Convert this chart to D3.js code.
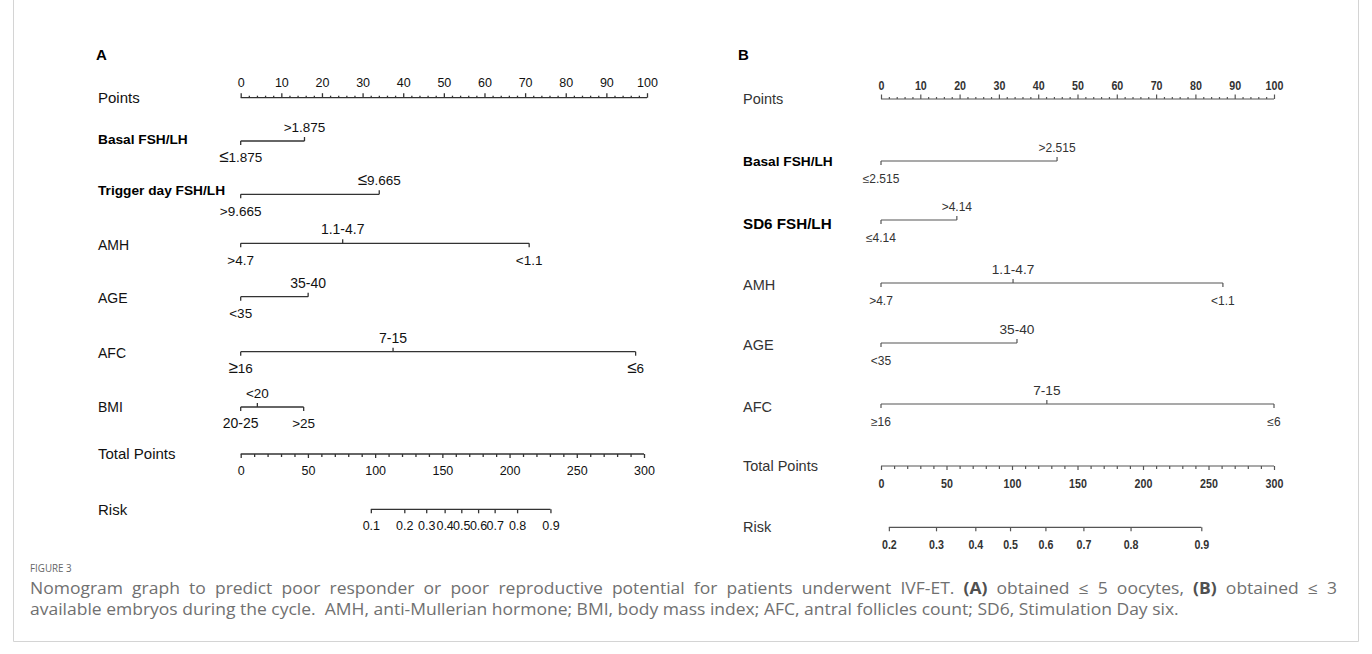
<!DOCTYPE html>
<html><head><meta charset="utf-8">
<script src="https://cdn.jsdelivr.net/npm/d3@7/dist/d3.min.js"></script>
<style>body{margin:0;background:#fff}svg{display:block}</style></head>
<body><svg id="chart" width="1372" height="654"></svg>
<script>
// ---------------- DATA ----------------
const pointTicks = [0, 10, 20, 30, 40, 50, 60, 70, 80, 90, 100];
const pointMinorTicks = d3.range(0, 101, 2);
const totalTicks = [0, 50, 100, 150, 200, 250, 300];
const totalMinorTicks = d3.range(0, 301, 10);

// Panel A: obtained <= 5 oocytes
const varNamesA = ["Basal FSH/LH", "Trigger day FSH/LH", "AMH", "AGE", "AFC", "BMI"];
const levelLabelsA = [
  ["≤1.875", ">1.875"],
  [">9.665", "≤9.665"],
  [">4.7", "1.1-4.7", "<1.1"],
  ["<35", "35-40"],
  ["≥16", "7-15", "≤6"],
  ["20-25", "<20", ">25"]
];
const levelPointsA = [
  [0, 15.7],
  [0, 34.1],
  [0, 25.1, 71.0],
  [0, 16.6],
  [0, 37.5, 97.2],
  [0, 4.1, 15.5]
];
const riskTicksA = [0.1, 0.2, 0.3, 0.4, 0.5, 0.6, 0.7, 0.8, 0.9];
const riskTotalPointsA = [96.8, 121.7, 138.0, 151.7, 164.1, 176.6, 188.9, 205.6, 230.4];

// Panel B: obtained <= 3 available embryos
const varNamesB = ["Basal FSH/LH", "SD6 FSH/LH", "AMH", "AGE", "AFC"];
const levelLabelsB = [
  ["≤2.515", ">2.515"],
  ["≤4.14", ">4.14"],
  [">4.7", "1.1-4.7", "<1.1"],
  ["<35", "35-40"],
  ["≥16", "7-15", "≤6"]
];
const levelPointsB = [
  [0, 44.8],
  [0, 19.3],
  [0, 33.6, 87.0],
  [0, 34.6],
  [0, 42.2, 100]
];
const riskTicksB = [0.2, 0.3, 0.4, 0.5, 0.6, 0.7, 0.8, 0.9];
const riskTotalPointsB = [6, 42, 72, 98.5, 125.5, 154.5, 190.5, 244.5];

const captionTitle = "FIGURE 3";
const captionLine1 = [["Nomogram graph to predict poor responder or poor reproductive potential for patients underwent IVF-ET. ", false], ["(A)", true], [" obtained ≤ 5 oocytes, ", false], ["(B)", true], [" obtained ≤ 3", false]];
const captionLine2 = [["available embryos during the cycle.  AMH, anti-Mullerian hormone; BMI, body mass index; AFC, antral follicles count; SD6, Stimulation Day six.", false]];

// ---------------- LAYOUT ----------------
const svg = d3.select("#chart");

// figure frame
svg.append("path")
  .attr("d", "M13.5,-2 V641.5 H1358.5 V-2")
  .attr("fill", "none").attr("stroke", "#d4d4d4").attr("stroke-width", 1);

const panelA = {
  letter: "A", letterX: 96, letterY: 55,
  labelX: 98,
  pointsRange: [240.7, 647], totalRange: [240.7, 644],
  pointsY: 97.7, tickLabelY: 82.7,
  lineY: [141, 194.3, 243.3, 296.7, 351.7, 407],
  nameY: [139, 190, 245, 298, 352.7, 406.7],
  nameBold: [true, true, false, false, false, false],
  sides: [["b", "a"], ["b", "a"], ["b", "a", "b"], ["b", "a"], ["b", "a", "b"], ["b", "a", "b"]],
  aboveOff: -14, belowOff: 16.5,
  totalY: 454, totalLabelY: 470.5, riskY: 509.3, riskLabelY: 525.5,
  names: varNamesA, levels: levelLabelsA, pts: levelPointsA,
  riskTicks: riskTicksA, riskPts: riskTotalPointsA,
  textColor: "#111", lineColor: "#333", lineW: 1.3,
  font: "'Liberation Sans', Arial, sans-serif",
  tickFont: "'Liberation Sans', Arial, sans-serif", tickWeight: "normal", tickSize: 12.5, tickSqueeze: 1,
  mainSize: 15, nameSize: 14, boldNameSize: 13.7, levelSize: 13.5,
  bigSymbols: true
};

const panelB = {
  letter: "B", letterX: 738, letterY: 55,
  labelX: 743,
  pointsRange: [881, 1274], totalRange: [881, 1274],
  pointsY: 99, tickLabelY: 85.5,
  lineY: [161, 220, 283, 343, 404],
  nameY: [161.5, 224, 284.5, 345, 406.5],
  nameBold: [true, true, false, false, false],
  nameSizes: [13.7, 15.2, 14.5, 14.5, 14.5],
  sides: [["b", "a"], ["b", "a"], ["b", "a", "b"], ["b", "a"], ["b", "a", "b"]],
  aboveOff: -13.5, belowOff: 17.5,
  totalY: 466, totalLabelY: 483.3, riskY: 527.3, riskLabelY: 544,
  names: varNamesB, levels: levelLabelsB, pts: levelPointsB,
  riskTicks: riskTicksB, riskPts: riskTotalPointsB,
  textColor: "#333", lineColor: "#555", lineW: 1.2,
  font: "'Liberation Sans', Arial, sans-serif",
  tickFont: "'Liberation Sans', Arial, sans-serif", tickWeight: "bold", tickSize: 13, tickSqueeze: 0.82,
  mainSize: 14.5, nameSize: 14.5, boldNameSize: 13.7, levelSize: 12,
  bigSymbols: false
};

function levelFontSize(P, lab) {
  if (/^\d/.test(lab) && lab.includes("-")) return P === panelB ? 13.7 : 14;
  return P.levelSize;
}

function drawPanel(P) {
  const g = svg.append("g");
  const x = d3.scaleLinear().domain([0, 100]).range(P.pointsRange);
  const xt = d3.scaleLinear().domain([0, 300]).range(P.totalRange);

  g.append("text").attr("x", P.letterX).attr("y", P.letterY).attr("dy", "0.35em")
    .attr("font-family", "'Liberation Sans', Arial, sans-serif").attr("font-weight", "bold")
    .attr("font-size", 15).attr("fill", "#000").text(P.letter);

  const styleAxis = sel => {
    sel.select(".domain").remove();
    sel.selectAll(".tick line").attr("stroke", P.lineColor).attr("stroke-width", P.lineW);
    sel.selectAll(".tick text").attr("font-family", P.tickFont).attr("font-weight", P.tickWeight)
      .attr("font-size", P.tickSize).attr("fill", P.textColor)
      .each(function () {
        if (P.tickSqueeze !== 1 && this.textContent) {
          const w = this.getComputedTextLength();
          d3.select(this).attr("textLength", w * P.tickSqueeze).attr("lengthAdjust", "spacingAndGlyphs");
        }
      });
  };
  const baseLine = (y, x1, x2) => g.append("line").attr("x1", x1).attr("x2", x2)
    .attr("y1", y).attr("y2", y).attr("stroke", P.lineColor).attr("stroke-width", P.lineW);

  // Points axis
  g.append("text").attr("x", P.labelX).attr("y", P.pointsY).attr("dy", "0.35em")
    .attr("font-family", P.font).attr("font-size", P.mainSize).attr("fill", P.textColor).text("Points");
  baseLine(P.pointsY, x(0), x(100));
  g.append("g").attr("transform", `translate(0,${P.pointsY})`)
    .call(d3.axisTop(x).tickValues(pointMinorTicks.filter(d => d % 10)).tickSize(2).tickSizeOuter(0).tickFormat(""))
    .call(styleAxis);
  const pa = g.append("g").attr("transform", `translate(0,${P.pointsY})`)
    .call(d3.axisTop(x).tickValues(pointTicks).tickSize(4.5).tickSizeOuter(0).tickPadding(0))
    .call(styleAxis);
  pa.selectAll(".tick text").attr("y", P.tickLabelY - P.pointsY).attr("dy", "0.35em");

  // variable rows
  P.names.forEach((name, i) => {
    const y = P.lineY[i];
    const fs = P.nameSizes ? P.nameSizes[i] : (P.nameBold[i] ? P.boldNameSize : P.nameSize);
    g.append("text").attr("x", P.labelX).attr("y", P.nameY[i]).attr("dy", "0.35em")
      .attr("font-family", P.font).attr("font-weight", P.nameBold[i] ? "bold" : "normal")
      .attr("font-size", fs).attr("fill", P.nameBold[i] ? "#000" : P.textColor).text(name);
    const pts = P.pts[i];
    baseLine(y, x(d3.min(pts)), x(d3.max(pts)));
    pts.forEach((p, j) => {
      const up = P.sides[i][j] === "a";
      g.append("line").attr("x1", x(p)).attr("x2", x(p)).attr("y1", y).attr("y2", up ? y - 4 : y + 4)
        .attr("stroke", P.lineColor).attr("stroke-width", P.lineW);
      const lab = P.levels[i][j];
      const t = g.append("text").attr("x", x(p)).attr("y", y + (up ? P.aboveOff : P.belowOff)).attr("dy", "0.35em")
        .attr("text-anchor", "middle").attr("font-family", P.font)
        .attr("font-size", levelFontSize(P, lab)).attr("fill", P.textColor);
      if (P.bigSymbols && /^[≤≥]/.test(lab)) {
        t.append("tspan").attr("font-size", 17).attr("font-family", "'DejaVu Sans', sans-serif")
          .attr("font-weight", 200).text(lab[0]);
        t.append("tspan").text(lab.slice(1));
      } else {
        t.text(lab);
      }
    });
  });

  // Total Points axis
  g.append("text").attr("x", P.labelX).attr("y", P.totalY).attr("dy", "0.35em")
    .attr("font-family", P.font).attr("font-size", P.mainSize).attr("fill", P.textColor).text("Total Points");
  baseLine(P.totalY, xt(0), xt(300));
  g.append("g").attr("transform", `translate(0,${P.totalY})`)
    .call(d3.axisBottom(xt).tickValues(totalMinorTicks.filter(d => d % 50)).tickSize(3).tickSizeOuter(0).tickFormat(""))
    .call(styleAxis);
  const ta = g.append("g").attr("transform", `translate(0,${P.totalY})`)
    .call(d3.axisBottom(xt).tickValues(totalTicks).tickSize(4).tickSizeOuter(0))
    .call(styleAxis);
  ta.selectAll(".tick text").attr("y", P.totalLabelY - P.totalY).attr("dy", "0.35em");

  // Risk axis
  g.append("text").attr("x", P.labelX).attr("y", P.riskY).attr("dy", "0.35em")
    .attr("font-family", P.font).attr("font-size", P.mainSize).attr("fill", P.textColor).text("Risk");
  baseLine(P.riskY, xt(d3.min(P.riskPts)), xt(d3.max(P.riskPts)));
  const ra = g.append("g").attr("transform", `translate(0,${P.riskY})`)
    .call(d3.axisBottom(xt).tickValues(P.riskPts).tickSize(4).tickSizeOuter(0)
      .tickFormat((d, k) => String(P.riskTicks[k])))
    .call(styleAxis);
  ra.selectAll(".tick text").attr("y", P.riskLabelY - P.riskY).attr("dy", "0.35em");
}

drawPanel(panelA);
drawPanel(panelB);

// ---------------- CAPTION ----------------
const cap = svg.append("g").attr("font-family", "'Open Sans', 'Noto Sans', sans-serif");
const ft = cap.append("text").attr("x", 30).attr("y", 568).attr("dy", "0.35em")
  .attr("font-size", 11.5).attr("fill", "#666").text(captionTitle);
ft.attr("textLength", ft.node().getComputedTextLength() * 0.85).attr("lengthAdjust", "spacingAndGlyphs");

// caption body: condensed glyphs (horizontal scale), first line justified by word spacing
const capSize = 15.5;
const capG = cap.append("g");
function capLine(parts, y) {
  const t = capG.append("text").attr("x", 0).attr("y", y).attr("dy", "0.35em")
    .style("white-space", "pre")
    .attr("font-size", capSize).attr("fill", "#707070");
  parts.forEach(([s, b]) => t.append("tspan").attr("font-weight", b ? 700 : 400)
    .attr("fill", b ? "#505050" : "#707070").text(s));
  return t;
}
const l1 = capLine(captionLine1, 589);
const l2 = capLine(captionLine2, 610);
const f = 1150 / l2.node().getComputedTextLength();
capG.attr("transform", `translate(30,0) scale(${f},1)`);
const nSpaces = captionLine1.map(d => d[0]).join("").split(" ").length - 1;
const extra = Math.max(0, 1307 / f - l1.node().getComputedTextLength());
l1.attr("word-spacing", extra / nSpaces);
</script>
</body></html>
